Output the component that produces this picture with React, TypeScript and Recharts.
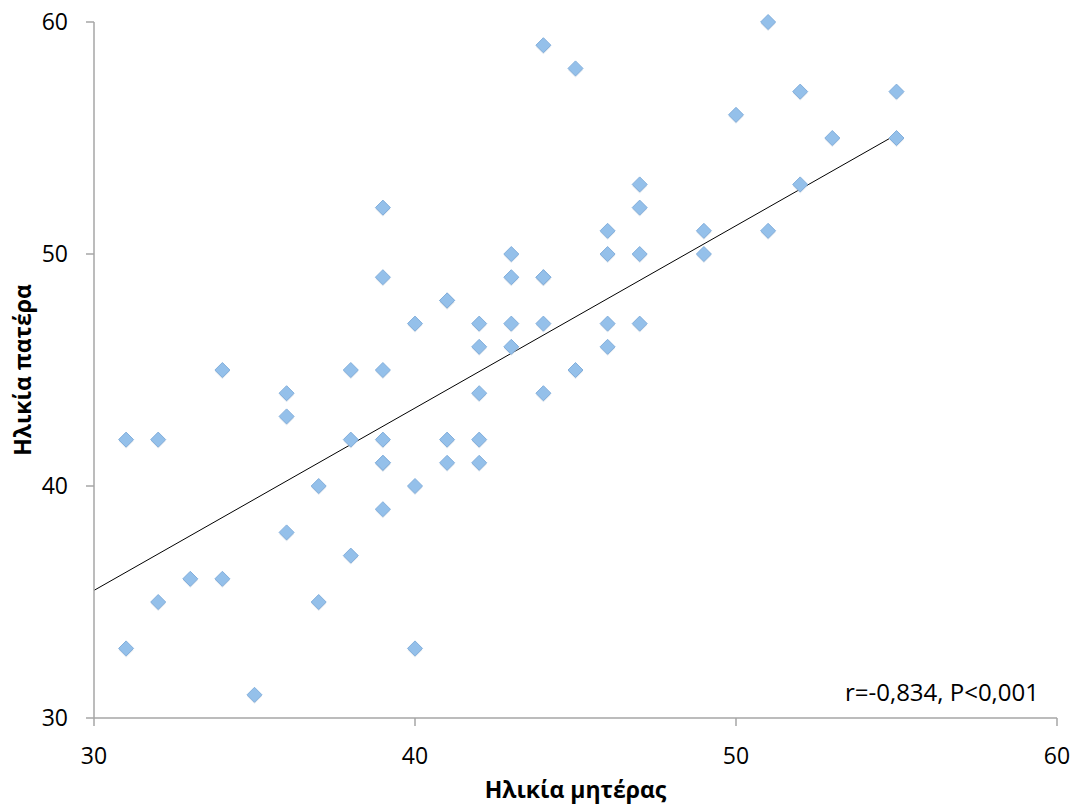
import React from "react";
import {
  ScatterChart,
  Scatter,
  XAxis,
  YAxis,
  ReferenceLine,
  Label,
} from "recharts";

if (typeof document !== "undefined") document.body.style.margin = "0";

// mother's age (x) / father's age (y)
const motherAge = [
  31, 31, 32, 32, 33, 34, 34, 35, 36, 36, 36, 37, 37, 38, 38, 38,
  39, 39, 39, 39, 39, 39, 39, 40, 40, 40, 41, 41, 41, 41,
  42, 42, 42, 42, 42, 43, 43, 43, 43, 44, 44, 44, 44, 44, 45, 45,
  46, 46, 46, 46, 47, 47, 47, 47, 49, 49, 50, 51, 51, 52, 52, 53, 55, 55,
];
const fatherAge = [
  42, 33, 42, 35, 36, 45, 36, 31, 44, 43, 38, 40, 35, 45, 42, 37,
  52, 49, 45, 42, 41, 41, 39, 47, 40, 33, 48, 48, 42, 41,
  47, 46, 44, 42, 41, 50, 49, 47, 46, 59, 49, 49, 47, 44, 58, 45,
  51, 50, 47, 46, 53, 52, 50, 47, 51, 50, 56, 60, 51, 57, 53, 55, 57, 55,
];

// trend line endpoints
const trendStart = { x: 30, y: 35.5 };
const trendEnd = { x: 55, y: 55.15 };

const xTicks = [30, 40, 50, 60];
const yTicks = [30, 40, 50, 60];

const points = motherAge.map((m, i) => ({ x: m, y: fatherAge[i] }));

const FONT = "'Open Sans', sans-serif";
const TICK_SIZE = 23;

const XTick = (props: any) => {
  const { x, y, payload } = props;
  return (
    <text x={x} y={y} dy={17} textAnchor="middle" fill="#000" fontSize={TICK_SIZE} fontFamily={FONT}>
      {payload.value}
    </text>
  );
};

const YTick = (props: any) => {
  const { x, y, payload } = props;
  return (
    <text x={x} y={y} dy={8} textAnchor="end" fill="#000" fontSize={TICK_SIZE} fontFamily={FONT}>
      {payload.value}
    </text>
  );
};

const Diamond = (props: any) => {
  const { cx, cy } = props;
  const r = 7.5;
  return (
    <g>
      <polygon
        points={`${cx},${cy - r + 1.5} ${cx + r},${cy + 1.5} ${cx},${cy + r + 1.5} ${cx - r},${cy + 1.5}`}
        fill="#b9c6d4"
        opacity={0.45}
      />
      <polygon
        points={`${cx},${cy - r} ${cx + r},${cy} ${cx},${cy + r} ${cx - r},${cy}`}
        fill="#94c0ea"
        stroke="#83afdc"
        strokeWidth={1}
      />
    </g>
  );
};

export default function App() {
  return (
    <div style={{ position: "relative", width: 1077, height: 809, background: "#fff", fontFamily: FONT }}>
      <ScatterChart
        width={1077}
        height={809}
        margin={{ top: 22, right: 20, bottom: 0, left: 0 }}
      >
        <XAxis
          type="number"
          dataKey="x"
          domain={[30, 60]}
          ticks={xTicks}
          axisLine={{ stroke: "#a6a6a6", strokeWidth: 1.5 }}
          tickLine={{ stroke: "#a6a6a6", strokeWidth: 1.5 }}
          tickSize={8}
          tickMargin={21}
          height={91}
          tick={<XTick />}
        >
          <Label
            value="Ηλικία μητέρας"
            position="insideBottom"
            offset={11}
            style={{ fill: "#000", fontSize: 23, fontWeight: 700, fontFamily: FONT }}
          />
        </XAxis>
        <YAxis
          type="number"
          dataKey="y"
          domain={[30, 60]}
          ticks={yTicks}
          axisLine={{ stroke: "#a6a6a6", strokeWidth: 1.5 }}
          tickLine={{ stroke: "#a6a6a6", strokeWidth: 1.5 }}
          tickSize={8}
          tickMargin={18}
          width={94}
          tick={<YTick />}
        >
          <Label
            value="Ηλικία πατέρα"
            angle={-90}
            position="insideLeft"
            offset={23}
            style={{ fill: "#000", fontSize: 23, fontWeight: 700, fontFamily: FONT, textAnchor: "middle" }}
          />
        </YAxis>
        <ReferenceLine
          segment={[trendStart, trendEnd]}
          stroke="#000"
          strokeWidth={1}
          ifOverflow="visible"
        />
        <Scatter data={points} shape={Diamond} isAnimationActive={false} />
      </ScatterChart>
      <div
        style={{
          position: "absolute",
          right: 38,
          top: 675,
          fontSize: 24,
          color: "#000",
          fontFamily: FONT,
          whiteSpace: "nowrap",
        }}
      >
        r=-0,834, P&lt;0,001
      </div>
    </div>
  );
}
